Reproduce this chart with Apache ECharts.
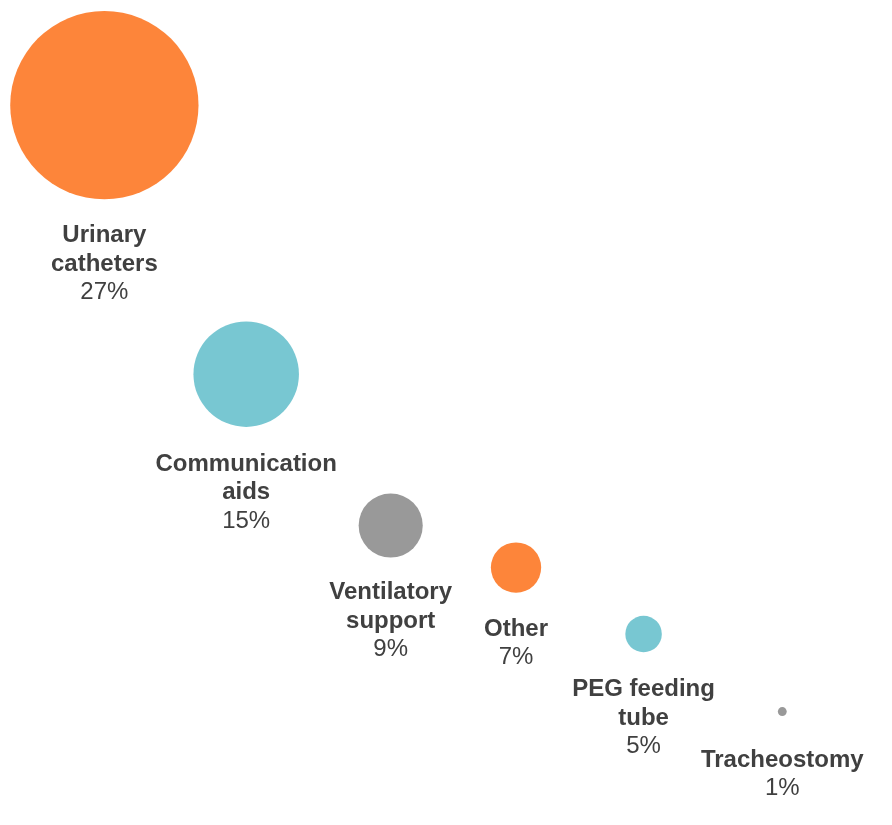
<!DOCTYPE html>
<html>
<head>
<meta charset="utf-8">
<script src="https://cdn.jsdelivr.net/npm/echarts@6/dist/echarts.min.js"></script>
<style>
  html, body { margin: 0; padding: 0; background: #ffffff; }
  #chart { width: 892px; height: 825px; }
</style>
</head>
<body>
<div id="chart"></div>
<script>
// Share of respondents by device type
const categories = ['Urinary\ncatheters', 'Communication\naids', 'Ventilatory\nsupport', 'Other', 'PEG feeding\ntube', 'Tracheostomy'];
const shares = [27, 15, 9, 7, 5, 1];
// Bubble placement on the hidden 0–100 layout axes
const xValues = [11.7, 27.6, 43.8, 57.85, 72.15, 87.7];
const yValues = [12.75, 45.35, 63.7, 68.8, 76.85, 86.25];

const colors = ['#FD853A', '#78C7D2', '#999999', '#FD853A', '#78C7D2', '#999999'];
const labelGap = [22, 23, 21, 22, 23, 30];

const chart = echarts.init(document.getElementById('chart'));

const data = categories.map((name, i) => ({
  name: name,
  value: [xValues[i], yValues[i], shares[i]],
  itemStyle: { color: colors[i], opacity: 1 },
  label: { distance: labelGap[i] }
}));

chart.setOption({
  animation: false,
  backgroundColor: '#ffffff',
  grid: { left: 0, right: 0, top: 0, bottom: 0 },
  xAxis: { type: 'value', min: 0, max: 100, show: false },
  yAxis: { type: 'value', min: 0, max: 100, inverse: true, show: false },
  series: [{
    type: 'scatter',
    symbol: 'circle',
    symbolSize: v => 2 + 6.9 * v[2],
    itemStyle: { opacity: 1 },
    data: data,
    label: {
      show: true,
      position: 'bottom',
      opacity: 1,
      formatter: p => p.name.split('\n').map(s => '{b|' + s + '}').join('\n') + '\n{v|' + p.value[2] + '%}',
      rich: {
        b: { fontFamily: 'Liberation Sans, Arial, sans-serif', fontWeight: 'bold', fontSize: 24, color: '#404040', lineHeight: 28.5, align: 'center' },
        v: { fontFamily: 'Liberation Sans, Arial, sans-serif', fontSize: 24, color: '#404040', lineHeight: 28.5, align: 'center' }
      }
    }
  }]
});
</script>
</body>
</html>
